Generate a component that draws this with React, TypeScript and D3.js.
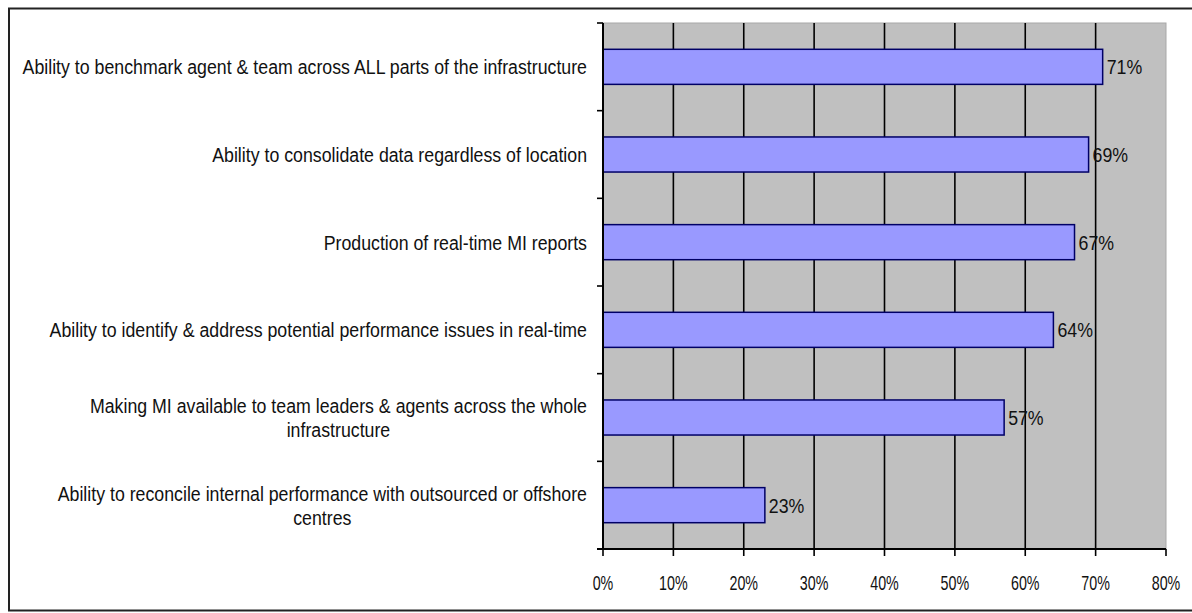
import React from "react";
import * as d3 from "d3";

const categories: string[][] = [
  ["Ability to benchmark agent & team across ALL parts of the infrastructure"],
  ["Ability to consolidate data regardless of location"],
  ["Production of real-time MI reports"],
  ["Ability to identify & address potential performance issues in real-time"],
  ["Making MI available to team leaders & agents across the whole", "infrastructure"],
  ["Ability to reconcile internal performance with outsourced or offshore", "centres"],
];
const values: number[] = [0.71, 0.69, 0.67, 0.64, 0.57, 0.23];
const xTicks: number[] = [0, 0.1, 0.2, 0.3, 0.4, 0.5, 0.6, 0.7, 0.8];

const W = 1192;
const H = 613;
const plot = { left: 603, right: 1166, top: 23, bottom: 549 };
const FONT = "'Liberation Sans', Arial, sans-serif";
const FS = 21;
const SX = 0.845; // horizontal condensation of the labels
const SX_TICK = 0.68;

function halfWidth(s: string): number {
  const c = document.createElement("canvas").getContext("2d");
  if (!c) return 0;
  c.font = `${FS}px 'Liberation Sans', Arial, sans-serif`;
  return c.measureText(s).width / 2;
}

export default function App() {
  const x = d3.scaleLinear().domain([0, 0.8]).range([plot.left, plot.right]);
  const y = d3
    .scaleBand<number>()
    .domain(d3.range(categories.length))
    .range([plot.top, plot.bottom])
    .paddingInner(0.6)
    .paddingOuter(0.3);
  const band = (plot.bottom - plot.top) / categories.length;
  const fmt = d3.format(".0%");

  return (
    <svg
      width={W}
      height={H}
      style={{ position: "absolute", left: 0, top: 0, background: "#fff" }}
    >
      {/* outer frame */}
      <rect x={9} y={8.5} width={1200} height={602} fill="#fff" stroke="#222" strokeWidth={2} />
      {/* plot background */}
      <rect
        x={plot.left}
        y={plot.top}
        width={plot.right - plot.left}
        height={plot.bottom - plot.top}
        fill="#C0C0C0"
        stroke="#a8a8a8"
        strokeWidth={1}
      />
      {/* gridlines */}
      {xTicks
        .filter((t) => t > 0 && t < 0.8)
        .map((t) => (
          <line
            key={"g" + t}
            x1={x(t)}
            x2={x(t)}
            y1={plot.top}
            y2={plot.bottom}
            stroke="#000"
            strokeWidth={1.6}
          />
        ))}
      {/* bars */}
      {values.map((v, i) => (
        <rect
          key={"b" + i}
          x={x(0)}
          y={y(i)!}
          width={x(v) - x(0)}
          height={y.bandwidth()}
          fill="#9999FF"
          stroke="#000066"
          strokeWidth={1.5}
        />
      ))}
      {/* value labels */}
      {values.map((v, i) => (
        <text
          key={"v" + i}
          transform={`translate(${x(v) + 4},${y(i)! + y.bandwidth() / 2}) scale(${SX},1)`}
          dy="0.36em"
          fontFamily={FONT}
          fontSize={FS}
          fill="#111"
        >
          {fmt(v)}
        </text>
      ))}
      {/* left axis */}
      <line x1={plot.left} x2={plot.left} y1={plot.top} y2={plot.bottom} stroke="#000" strokeWidth={2} />
      {d3.range(categories.length + 1).map((k) => (
        <line
          key={"lt" + k}
          x1={plot.left - 6}
          x2={plot.left}
          y1={plot.top + k * band}
          y2={plot.top + k * band}
          stroke="#000"
          strokeWidth={1.6}
        />
      ))}
      {/* bottom axis */}
      <line x1={plot.left - 6} x2={plot.right} y1={plot.bottom} y2={plot.bottom} stroke="#000" strokeWidth={2} />
      {xTicks.map((t) => (
        <g key={"xt" + t}>
          <line x1={x(t)} x2={x(t)} y1={plot.bottom} y2={plot.bottom + 7} stroke="#000" strokeWidth={1.6} />
          <text
            transform={`translate(${x(t)},${plot.bottom + 41}) scale(${SX_TICK},1)`}
            textAnchor="middle"
            fontFamily={FONT}
            fontSize={FS}
            fill="#111"
          >
            {fmt(t)}
          </text>
        </g>
      ))}
      {/* category labels */}
      {categories.map((lines, i) => {
        const cy = y(i)! + y.bandwidth() / 2;
        const lh = 24;
        const startY = cy - ((lines.length - 1) * lh) / 2;
        const multi = lines.length > 1;
        const hw = multi ? halfWidth(lines[0]) : 0;
        return (
          <g key={"c" + i} transform={`translate(${plot.left - 16},0) scale(${SX},1)`}>
            <text fontFamily={FONT} fontSize={FS} fill="#111" textAnchor={multi ? "middle" : "end"}>
              {lines.map((ln, j) => (
                <tspan key={j} x={multi ? -hw : 0} y={startY + j * lh} dy="0.36em">
                  {ln}
                </tspan>
              ))}
            </text>
          </g>
        );
      })}
    </svg>
  );
}
